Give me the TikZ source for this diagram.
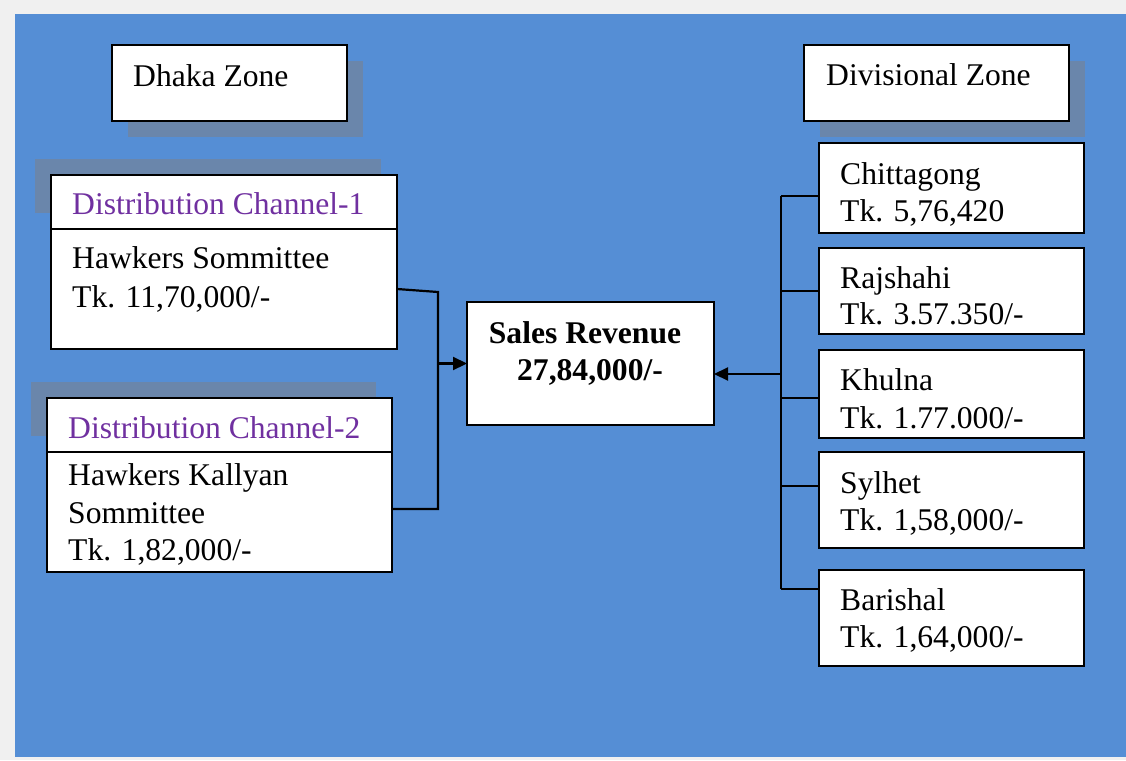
\documentclass[tikz,border=0pt]{standalone}
\usepackage{fontspec}
\setmainfont{Liberation Serif}
\usetikzlibrary{arrows.meta}
\definecolor{bgblue}{HTML}{558ED5}
\definecolor{shadowblue}{HTML}{6A86AB}
\definecolor{pagegray}{HTML}{F0F0F0}
\definecolor{chanpurple}{HTML}{7030A0}
\begin{document}
\begin{tikzpicture}[x=1pt,y=-1pt,
  box/.style={draw=black, fill=white, line width=2.2pt, anchor=north west,
    inner sep=0pt, outer sep=0pt},
  txt/.style={anchor=base west, inner sep=0pt, font=\fontsize{31.6}{38}\selectfont},
  head/.style={txt, text=chanpurple},
  bold/.style={anchor=base, inner sep=0pt, font=\fontsize{31.6}{38}\selectfont\bfseries},
  link/.style={line width=2.2pt},
  arr/.style={link, -{Triangle[length=14pt,width=13pt]}}]

% page and panel
\fill[pagegray] (0,0) rectangle (1126,760);
\useasboundingbox (0,0) rectangle (1126,760);
\fill[bgblue] (15,14) rectangle (1126,757);

% drop shadows
\fill[shadowblue] (128,61) rectangle (363,137);
\fill[shadowblue] (820,61) rectangle (1085,137);
\fill[shadowblue] (35,159) rectangle (381,213);
\fill[shadowblue] (31,382) rectangle (376,436);

% zone titles
\node[box, minimum width=235pt, minimum height=76pt] (dz) at (112,45) {};
\node[txt] (dzt) at (133,86) {Dhaka Zone};
\node[box, minimum width=265pt, minimum height=76pt] (vz) at (804,45) {};
\node[txt] (vzt) at (826,85) {Divisional Zone};

% distribution channels
\node[box, minimum width=346pt, minimum height=174pt] (dc1) at (51,175) {};
\draw[link] (dc1.north west |- 0,229) -- (dc1.north east |- 0,229);
\node[head] (dc1h) at (72,214) {Distribution Channel-1};
\node[txt] (dc1a) at (72,268) {Hawkers Sommittee};
\node[txt] (dc1b) at (72,307) {Tk. 11,70,000/-};

\node[box, minimum width=345pt, minimum height=174pt] (dc2) at (47,398) {};
\draw[link] (dc2.north west |- 0,452) -- (dc2.north east |- 0,452);
\node[head] (dc2h) at (68,438) {Distribution Channel-2};
\node[txt] (dc2a) at (68,485) {Hawkers Kallyan};
\node[txt] (dc2b) at (68,523) {Sommittee};
\node[txt] (dc2c) at (68,560) {Tk. 1,82,000/-};

% total
\node[box, minimum width=247pt, minimum height=123pt] (sr) at (467,302) {};
\node[bold] (sra) at (585,343) {Sales Revenue};
\node[bold] (srb) at (590,380) {27,84,000/-};

% divisions
\node[box, minimum width=265pt, minimum height=90pt] (ctg) at (819,143) {};
\node[txt] (ctga) at (840,184) {Chittagong};
\node[txt] (ctgb) at (840,221) {Tk. 5,76,420};

\node[box, minimum width=265pt, minimum height=86pt] (raj) at (819,248) {};
\node[txt] (raja) at (840,288) {Rajshahi};
\node[txt] (rajb) at (840,324) {Tk. 3.57.350/-};

\node[box, minimum width=265pt, minimum height=88pt] (khu) at (819,350) {};
\node[txt] (khua) at (840,390) {Khulna};
\node[txt] (khub) at (840,428) {Tk. 1.77.000/-};

\node[box, minimum width=265pt, minimum height=96pt] (syl) at (819,452) {};
\node[txt] (syla) at (840,493) {Sylhet};
\node[txt] (sylb) at (840,530) {Tk. 1,58,000/-};

\node[box, minimum width=265pt, minimum height=96pt] (bar) at (819,570) {};
\node[txt] (bara) at (840,610) {Barishal};
\node[txt] (barb) at (840,647) {Tk. 1,64,000/-};

% left collector
\coordinate (jl1) at (438,292);
\coordinate (jl2) at (438,509);
\draw[link] ([yshift=-27pt]dc1.east) -- (jl1) -- (jl2) -- (dc2.east |- jl2);
\draw[arr] (jl1 |- sr.west) -- (sr.west);

% right collector
\coordinate (jr1) at (781,196);
\coordinate (jr2) at (781,589);
\draw[link] (jr1) -- (jr2);
\draw[link] (jr1) -- (ctg.west |- jr1);
\draw[link] (jr1 |- raj.west) -- (raj.west);
\draw[link] (jr1 |- 0,398) -- (khu.west |- 0,398);
\draw[link] (jr1 |- 0,486) -- (syl.west |- 0,486);
\draw[link] (jr2) -- (bar.west |- jr2);
\draw[arr] (jr1 |- 0,374) -- (sr.east |- 0,374);
\end{tikzpicture}
\end{document}
